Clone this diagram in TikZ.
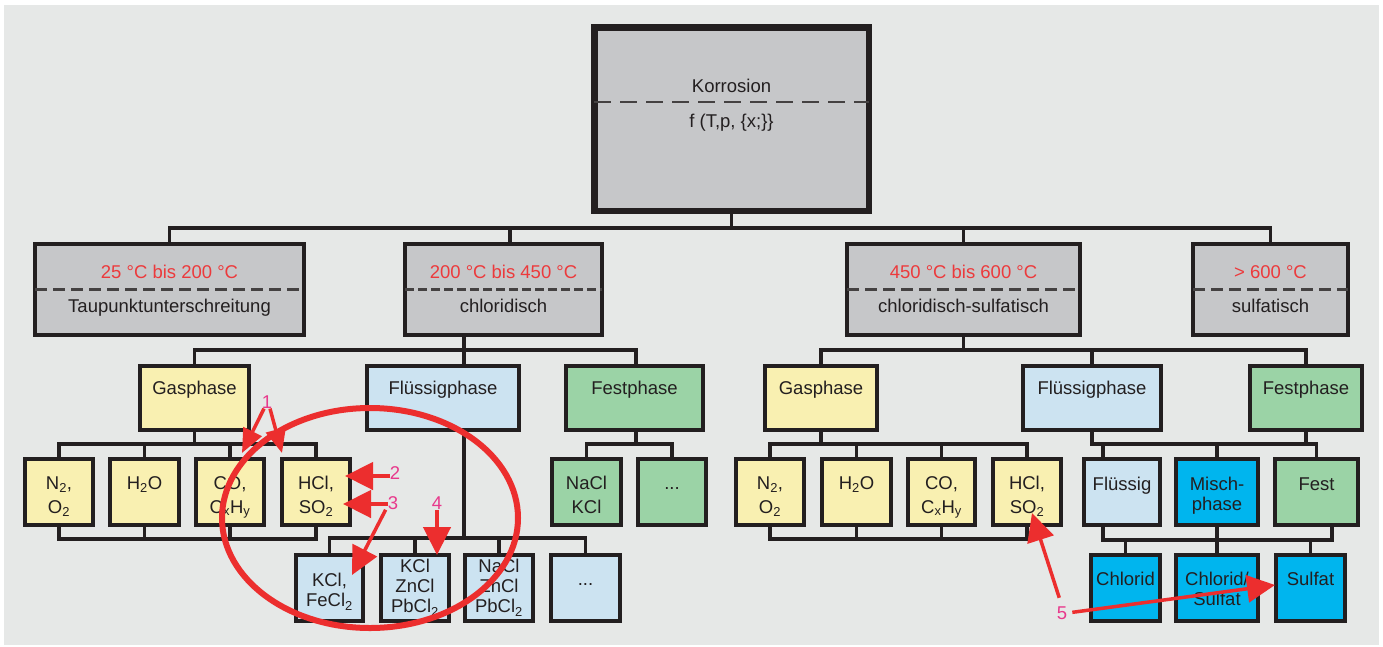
\documentclass[tikz,border=0pt]{standalone}
\usepackage{fontspec}
\setmainfont{Liberation Sans}
\usetikzlibrary{arrows.meta,calc}
\definecolor{bgc}{HTML}{E6E8E7}
\definecolor{ink}{HTML}{231F20}
\definecolor{gbox}{HTML}{C6C7C9}
\definecolor{ybox}{HTML}{F9F0B1}
\definecolor{lbbox}{HTML}{CCE3F1}
\definecolor{grbox}{HTML}{9BD3A6}
\definecolor{cbox}{HTML}{00B5EE}
\definecolor{ared}{HTML}{EC2E2E}
\definecolor{tred}{HTML}{EC3A3C}
\definecolor{amag}{HTML}{E8398C}
\newcommand\myfs{\fontsize{18.5}{20}\selectfont}
% #1 style, #2 name, #3-#6 outer box x1 y1 x2 y2 (pixels), #7 text top, #8 text
\newcommand\bx[8]{%
  \node[bxs,#1,minimum width={(#5-#3-4)*1pt},minimum height={(#6-#4-4)*1pt}] (#2) at ({(#3+#5)/2},{(#4+#6)/2}) {};
  \node[txt] (#2-t) at ({(#3+#5)/2},#7) {#8};}
\begin{document}
\begin{tikzpicture}[x=1pt,y=-1pt,
  bxs/.style={draw=ink,line width=4pt,inner sep=0pt,rectangle},
  conn/.style={draw=ink,line width=3.5pt},
  txt/.style={font=\myfs,text=ink,align=center,inner sep=0pt,anchor=north},
  dashK/.style={draw=ink!85,line width=2pt,dash pattern=on 17pt off 9pt},
  dashA/.style={draw=ink!85,line width=2.2pt,dash pattern=on 12pt off 6pt,shorten <=2pt,shorten >=2pt},
  dashB/.style={draw=ink!85,line width=2.2pt,dash pattern=on 9pt off 4pt,shorten <=2pt,shorten >=2pt},
  redarr/.style={draw=ared,line width=4.5pt,-{Triangle[length=28pt,width=27pt]}},
  redarrs/.style={draw=ared,line width=3.5pt,-{Triangle[length=24pt,width=20pt]}},
  lbl/.style={font=\myfs,text=amag,inner sep=0pt}]
\useasboundingbox (0,0) rectangle (1383,646);
\fill[white] (0,0) rectangle (1383,646);
\fill[bgc] (4,5) rectangle (1379,645);

% top box
\node[bxs,fill=gbox,line width=6.5pt,minimum width=274.5pt,minimum height=183.5pt] (korr) at (731.5,119) {};
\draw[dashK] ($(korr.west)+(3,-17)$) -- ($(korr.east)+(-3,-17)$);
\node[txt] (korr-t) at (731.5,78) {\strut Korrosion\\[15pt]\strut f (T,p, \{x;\}\}};

% temperature boxes
\bx{fill=gbox}{t1}{33}{242}{306}{337}{264}{\strut\textcolor{tred}{25 °C bis 200 °C}\\[14.7pt]\strut Taupunktunterschreitung}
\bx{fill=gbox}{t2}{403}{242}{604}{337}{264}{\strut\textcolor{tred}{200 °C bis 450 °C}\\[14.7pt]\strut chloridisch}
\bx{fill=gbox}{t3}{845}{242}{1082}{337}{264}{\strut\textcolor{tred}{450 °C bis 600 °C}\\[14.7pt]\strut chloridisch-sulfatisch}
\bx{fill=gbox}{t4}{1191}{242}{1350}{337}{264}{\strut\textcolor{tred}{> 600 °C}\\[14.7pt]\strut sulfatisch}
\draw[dashA] (t1.west) -- (t1.east);
\draw[dashB] (t2.west) -- (t2.east);
\draw[dashA] (t3.west) -- (t3.east);
\draw[dashA] (t4.west) -- (t4.east);

% phase boxes
\bx{fill=ybox}{gasL}{138}{364}{251}{432}{380}{\strut Gasphase}
\bx{fill=lbbox}{fluL}{365}{364}{521}{432}{380}{\strut Flüssigphase}
\bx{fill=grbox}{fesL}{564}{364}{705}{432}{380}{\strut Festphase}
\bx{fill=ybox}{gasR}{763}{364}{879}{432}{380}{\strut Gasphase}
\bx{fill=lbbox}{fluR}{1021}{364}{1163}{432}{380}{\strut Flüssigphase}
\bx{fill=grbox}{fesR}{1248}{364}{1364}{432}{380}{\strut Festphase}

% upper leaves
\bx{fill=ybox}{n2L}{23}{457}{95}{527}{475}{\strut N\textsubscript{2},\\[4pt]\strut O\textsubscript{2}}
\bx{fill=ybox}{h2oL}{108}{457}{181}{527}{475}{\strut H\textsubscript{2}O}
\bx{fill=ybox}{coL}{194}{457}{266}{527}{475}{\strut CO,\\[4pt]\strut C\textsubscript{x}H\textsubscript{y}}
\bx{fill=ybox}{hclL}{280}{457}{352}{527}{475}{\strut HCl,\\[4pt]\strut SO\textsubscript{2}}
\bx{fill=grbox}{nacl}{550}{457}{623}{527}{475}{\strut NaCl\\[4pt]\strut KCl}
\bx{fill=grbox}{dotsF}{636}{457}{708}{527}{475}{\strut ...}
\bx{fill=ybox}{n2R}{734}{457}{806}{527}{475}{\strut N\textsubscript{2},\\[4pt]\strut O\textsubscript{2}}
\bx{fill=ybox}{h2oR}{820}{457}{893}{527}{475}{\strut H\textsubscript{2}O}
\bx{fill=ybox}{coR}{906}{457}{977}{527}{475}{\strut CO,\\[4pt]\strut C\textsubscript{x}H\textsubscript{y}}
\bx{fill=ybox}{hclR}{991}{457}{1063}{527}{475}{\strut HCl,\\[4pt]\strut SO\textsubscript{2}}
\bx{fill=lbbox}{fluS}{1082}{457}{1162}{527}{476}{\strut Flüssig}
\bx{fill=cbox}{misch}{1174}{457}{1260}{527}{476}{\strut Misch-\\\strut phase}
\bx{fill=grbox}{fest}{1273}{457}{1360}{527}{476}{\strut Fest}

% lower leaves
\bx{fill=lbbox}{kfe}{294}{553}{365}{623}{572.7}{\strut KCl,\\\strut FeCl\textsubscript{2}}
\bx{fill=lbbox}{kzn}{379}{553}{451}{623}{558.7}{\strut KCl\\\strut ZnCl\\\strut PbCl\textsubscript{2}}
\bx{fill=lbbox}{nazn}{463}{553}{535}{623}{558.7}{\strut NaCl\\\strut ZnCl\\\strut PbCl\textsubscript{2}}
\bx{fill=lbbox}{dotsL}{549}{553}{622}{623}{571}{\strut ...}
\bx{fill=cbox}{chl}{1089}{553}{1162}{623}{571}{\strut Chlorid}
\bx{fill=cbox}{chs}{1174}{553}{1260}{623}{571}{\strut Chlorid/\\\strut Sulfat}
\bx{fill=cbox}{sul}{1274}{553}{1347}{623}{571}{\strut Sulfat}

% connectors: level 1
\draw[conn] (korr.south) -- ++(0,14);
\draw[conn] (t1.north) -- ++(0,-14) -| (t4.north);
\draw[conn] ([xshift=6.5pt]t2.north) -- ++(0,-14);
\draw[conn] (t3.north) -- ++(0,-14);
% level 2
\draw[conn] ([xshift=-39.5pt]t2.south) -- ([xshift=21pt]fluL.north);
\draw[conn] (gasL.north) -- ++(0,-14) -| ([xshift=1.5pt]fesL.north);
\draw[conn] (t3.south) -- ++(0,13);
\draw[conn] (gasR.north) -- ++(0,-14) -| (fesR.north);
\draw[conn] (fluR.north) -- ++(0,-14);
% left gas phase
\draw[conn] (gasL.south) -- ++(0,12);
\draw[conn] (n2L.north) -- ++(0,-13) -| (hclL.north);
\draw[conn] (h2oL.north) -- ++(0,-13);
\draw[conn] (coL.north) -- ++(0,-13);
\draw[conn] (n2L.south) -- ++(0,12) -| (hclL.south);
\draw[conn] (h2oL.south) -- ++(0,12);
\draw[conn] (coL.south) -- ++(0,12);
% left solid phase
\draw[conn] ([xshift=1.5pt]fesL.south) -- ++(0,12);
\draw[conn] (nacl.north) -- ++(0,-13) -| (dotsF.north);
% left liquid phase
\draw[conn] ([xshift=21pt]fluL.south) -- ++(0,106);
\draw[conn] (kfe.north) -- ++(0,-15) -| (dotsL.north);
\draw[conn] (kzn.north) -- ++(0,-15);
\draw[conn] (nazn.north) -- ++(0,-15);
% right gas phase
\draw[conn] (gasR.south) -- ++(0,12);
\draw[conn] (n2R.north) -- ++(0,-13) -| (hclR.north);
\draw[conn] (h2oR.north) -- ++(0,-13);
\draw[conn] (coR.north) -- ++(0,-13);
\draw[conn] (n2R.south) -- ++(0,12) -| (hclR.south);
\draw[conn] (h2oR.south) -- ++(0,12);
\draw[conn] (coR.south) -- ++(0,12);
% right liquid / solid phase
\draw[conn] (fluR.south) -- ++(0,12) -| (fest.north);
\draw[conn] ([xshift=-19pt]fluS.north) -- ++(0,-13);
\draw[conn] (misch.north) -- ++(0,-13);
\draw[conn] (fesR.south) -- ++(0,12);
\draw[conn] ([xshift=-19pt]fluS.south) -- ++(0,13) -| ([xshift=15.5pt]fest.south);
\draw[conn] (misch.south) -- (chs.north);
\draw[conn] (chl.north) -- ++(0,-13);
\draw[conn] (sul.north) -- ++(0,-13);

% red annotations
\draw[ared,line width=6pt] (370,518) ellipse [x radius=148pt, y radius=110pt];
\node[lbl] (l1) at (267,402) {1};
\node[lbl] (l2) at (395,473) {2};
\node[lbl] (l3) at (393,503) {3};
\node[lbl] (l4) at (437,503) {4};
\node[lbl] (l5) at (1062,613) {5};
\coordinate (c1a) at (242,453);
\coordinate (c1b) at (282,453);
\coordinate (c2) at (345,476);
\coordinate (c3) at (343,504);
\coordinate (c3b) at (352,575);
\coordinate (c4) at (437,555);
\coordinate (c5a) at (1032,513);
\coordinate (c5b) at (1275,585);
\draw[redarrs] ([xshift=-3pt]l1.south) -- (c1a);
\draw[redarrs] ([xshift=3pt]l1.south) -- (c1b);
\draw[redarr] (l2.west |- c2) -- (c2);
\draw[redarr] (l3.west |- c3) -- (c3);
\draw[redarr,line width=3.5pt] ([xshift=-2pt]l3.south west) -- (c3b);
\draw[redarr] (l4.south) -- (c4);
\draw[redarr,line width=3.5pt,shorten <=9pt] (l5.north) -- (c5a);
\draw[redarr,line width=3.5pt,shorten <=5pt] (l5.east) -- (c5b);
\end{tikzpicture}
\end{document}
